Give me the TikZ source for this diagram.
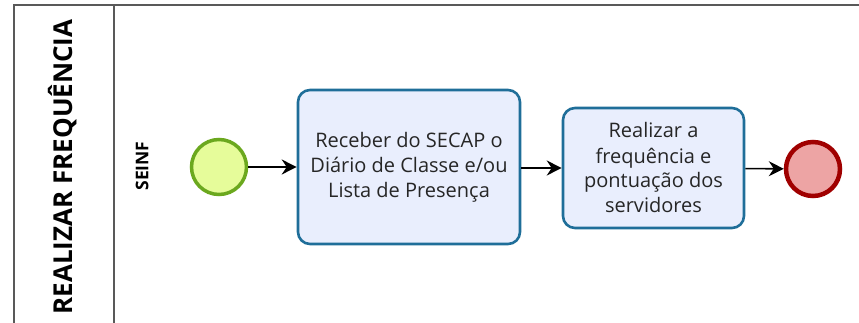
\documentclass[tikz,border=0pt]{standalone}
\usepackage{fontspec}
\setmainfont{Open Sans}
\usetikzlibrary{arrows.meta}
\definecolor{startfill}{HTML}{E6FC9A}
\definecolor{startline}{HTML}{6BA81E}
\definecolor{endfill}{HTML}{EDA4A4}
\definecolor{endline}{HTML}{A00000}
\definecolor{taskfill}{HTML}{E9EEFD}
\definecolor{taskline}{HTML}{1F6E99}

\begin{document}
\begin{tikzpicture}[x=1pt,y=-1pt,>={Stealth[length=15pt,width=15pt,inset=5pt]}]
	\tikzstyle{pool line}=[draw=black!65,line width=1.4pt]
	\tikzstyle{start event}=[circle,draw=startline,fill=startfill,line width=3.5pt,minimum size=55pt,inner sep=0pt]
	\tikzstyle{end event}=[circle,draw=endline,fill=endfill,line width=4.5pt,minimum size=54pt,inner sep=0pt]
	\tikzstyle{task}=[rectangle,rounded corners=12pt,draw=taskline,fill=taskfill,line width=2.6pt,align=center,inner sep=0pt,font=\fontsize{20}{25}\selectfont,text=black!85]
	\tikzstyle{flow}=[->,line width=1.6pt]

	\useasboundingbox (0,0) rectangle (859,323);

	% Draw the pool and the lane
	\draw[pool line] (14,323) -- (14,5) -- (859,5);
	\draw[pool line] (114,5) -- (114,323);
	\node[rotate=90,font=\bfseries\fontsize{26}{26}\selectfont] (pool) at (63,167) {REALIZAR FREQUÊNCIA};
	\node[rotate=90,font=\bfseries\fontsize{17.5}{17.5}\selectfont] (lane) at (142,166) {SEINF};

	% Draw the events and the tasks
	\node[start event] (start) at (219,167) {};
	\node[task,minimum width=222pt,minimum height=154pt] (receber) at (409,167) {Receber do SECAP o\\Diário de Classe e/ou\\Lista de Presença};
	\node[task,minimum width=181pt,minimum height=120pt] (realizar) at (653.5,168) {Realizar a\\frequência e\\pontuação dos\\servidores};
	\node[end event] (end) at (813,169) {};

	% Connect them
	\draw[flow] (start) -- (receber);
	\draw[flow] (receber.east |- realizar.west) -- (realizar);
	\draw[flow] (realizar) -- (end);
\end{tikzpicture}
\end{document}
